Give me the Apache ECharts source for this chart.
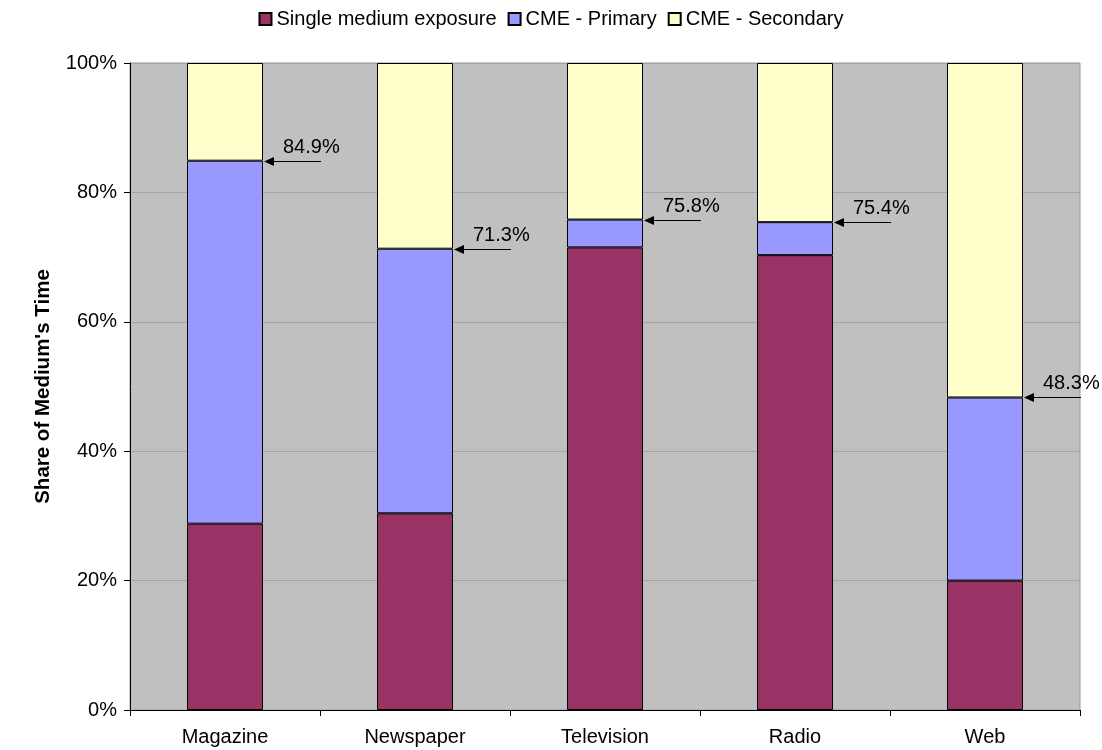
<!DOCTYPE html>
<html>
<head>
<meta charset="utf-8">
<script src="https://cdn.jsdelivr.net/npm/echarts@6/dist/echarts.min.js"></script>
<style>
  html, body { margin: 0; padding: 0; background: #ffffff; }
  #chart { width: 1102px; height: 750px; }
</style>
</head>
<body>
<div id="chart"></div>
<script>
// Media categories along the x axis
var categories = ['Magazine', 'Newspaper', 'Television', 'Radio', 'Web'];

// Share of each medium's time (%), stacked bottom to top
var singleMedium = [28.8, 30.4, 71.5, 70.3, 20.0];
var cmePrimary   = [56.1, 40.9, 4.3, 5.1, 28.3];
var cmeSecondary = [15.1, 28.7, 24.2, 24.6, 51.7];

// Combined single + primary share, called out with an arrow on each bar
var primaryTotals = [84.9, 71.3, 75.8, 75.4, 48.3];

var seriesNames = ['Single medium exposure', 'CME - Primary', 'CME - Secondary'];
var colors = ['#993366', '#9999ff', '#ffffcc'];

var FONT = '"Liberation Sans", Arial, sans-serif';
var BAR_RATIO = 0.4;

var chart = echarts.init(document.getElementById('chart'), null, { renderer: 'canvas' });

function barSeries(name, data, color) {
  return {
    name: name,
    type: 'bar',
    stack: 'share',
    data: data,
    barWidth: (BAR_RATIO * 100) + '%',
    itemStyle: { color: color, borderColor: '#000000', borderWidth: 1 },
    emphasis: { disabled: true },
    animation: false
  };
}

// Arrow pointing at the top of the primary segment, with its value label
function renderCallout(params, api) {
  var idx = api.value(0);
  var val = api.value(1);
  var pt = api.coord([idx, val]);
  var band = api.size([1, 0])[0];
  var edge = pt[0] + band * BAR_RATIO / 2 + 1;
  var y = Math.round(pt[1]) + 0.5;
  return {
    type: 'group',
    children: [
      {
        type: 'line',
        shape: { x1: edge + 8, y1: y, x2: edge + 57, y2: y },
        style: { stroke: '#000000', lineWidth: 1 }
      },
      {
        type: 'polygon',
        shape: { points: [[edge, y], [edge + 10, y - 4.5], [edge + 10, y + 4.5]] },
        style: { fill: '#000000' }
      },
      {
        type: 'text',
        x: edge + 19,
        y: y - 4,
        style: {
          text: val.toFixed(1) + '%',
          font: '20px ' + FONT,
          fill: '#000000',
          textAlign: 'left',
          textVerticalAlign: 'bottom'
        }
      }
    ]
  };
}

var option = {
  animation: false,
  color: colors,
  legend: {
    top: 4,
    left: 'center',
    itemWidth: 12,
    itemHeight: 12,
    itemGap: 11,
    icon: 'rect',
    data: seriesNames,
    textStyle: { fontFamily: FONT, fontSize: 20, color: '#000000' }
  },
  grid: {
    left: 130,
    right: 22,
    top: 63,
    bottom: 40,
    show: true,
    backgroundColor: '#c0c0c0',
    borderColor: '#9a9a9a',
    borderWidth: 1
  },
  xAxis: {
    type: 'category',
    data: categories,
    axisLine: { lineStyle: { color: '#000000', width: 1 } },
    axisTick: { show: true, length: 6, lineStyle: { color: '#000000' } },
    axisLabel: { fontFamily: FONT, fontSize: 20, color: '#000000', margin: 17 }
  },
  yAxis: {
    type: 'value',
    min: 0,
    max: 100,
    interval: 20,
    name: "Share of Medium's Time",
    nameLocation: 'middle',
    nameGap: 76,
    nameTextStyle: { fontFamily: FONT, fontSize: 20.5, fontWeight: 'bold', color: '#000000' },
    axisLine: { show: true, lineStyle: { color: '#000000', width: 1 } },
    axisTick: { show: true, length: 6, lineStyle: { color: '#000000' } },
    axisLabel: { fontFamily: FONT, fontSize: 20, color: '#000000', margin: 13, formatter: '{value}%' },
    splitLine: { show: true, lineStyle: { color: '#a4a4a4', width: 1 } }
  },
  series: [
    barSeries(seriesNames[0], singleMedium, colors[0]),
    barSeries(seriesNames[1], cmePrimary, colors[1]),
    barSeries(seriesNames[2], cmeSecondary, colors[2]),
    {
      type: 'custom',
      name: 'callouts',
      clip: false,
      silent: true,
      z: 10,
      renderItem: renderCallout,
      data: primaryTotals.map(function (v, i) { return [i, v]; }),
      animation: false
    }
  ]
};

chart.setOption(option);
</script>
</body>
</html>
